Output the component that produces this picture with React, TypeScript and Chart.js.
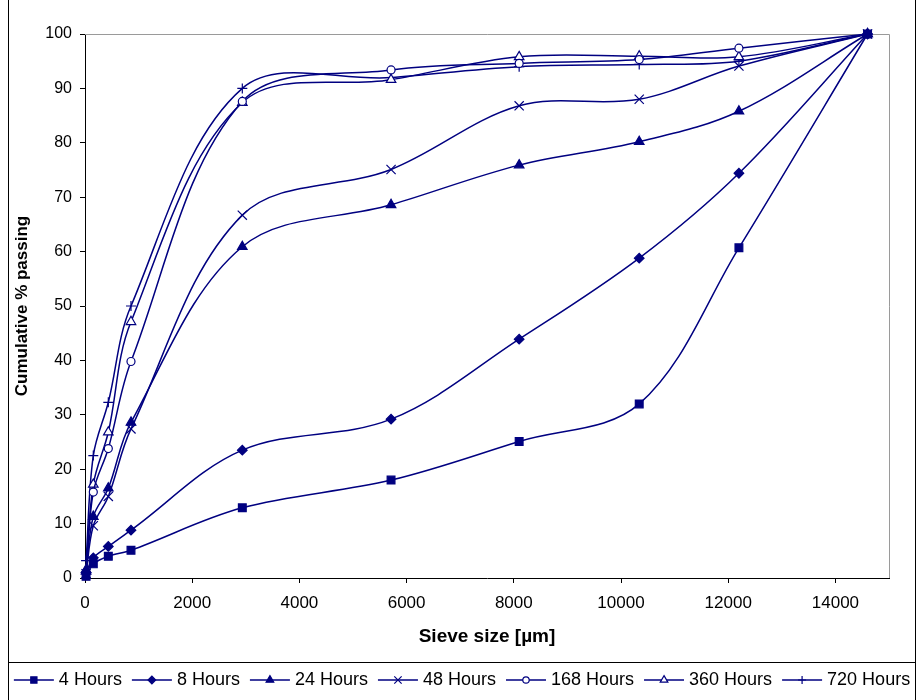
import React, { useEffect, useRef } from 'react';
import { Chart, registerables } from 'chart.js';

Chart.register(...registerables);

// ---------- data ----------
const sieveSizes = [20, 155, 435, 858, 2935, 5710, 8100, 10340, 12200, 14600];

const seriesLabels = ['4 Hours', '8 Hours', '24 Hours', '48 Hours', '168 Hours', '360 Hours', '720 Hours'];

const hours4 = [0.3, 2.6, 4.0, 5.1, 12.9, 18.0, 25.1, 32.0, 60.7, 100];
const hours8 = [1.0, 3.7, 5.8, 8.8, 23.5, 29.2, 43.9, 58.8, 74.4, 100];
const hours24 = [1.5, 11.3, 16.5, 28.6, 60.9, 68.6, 75.9, 80.2, 85.8, 100];
const hours48 = [0.8, 9.6, 15.0, 27.4, 66.7, 75.1, 86.8, 88.0, 94.1, 100];
const hours168 = [1.0, 15.8, 23.8, 39.8, 87.6, 93.4, 94.6, 95.3, 97.4, 100];
const hours360 = [1.2, 17.2, 26.8, 47.1, 87.4, 91.6, 95.8, 95.9, 95.8, 100];
const hours720 = [3.2, 22.5, 32.3, 50.0, 90.0, 92.0, 94.0, 94.4, 95.0, 100];

const seriesValues = [hours4, hours8, hours24, hours48, hours168, hours360, hours720];

const xTickValues = [0, 2000, 4000, 6000, 8000, 10000, 12000, 14000];
const yTickValues = [0, 10, 20, 30, 40, 50, 60, 70, 80, 90, 100];

// ---------- styles ----------
const NAVY = '#000080';
const FONT = "'Liberation Sans', Arial, sans-serif";

type MarkerDef = { style: string; radius: number; filled: boolean };
const markers: MarkerDef[] = [
  { style: 'rect', radius: 5.5, filled: true },
  { style: 'rectRot', radius: 4.8, filled: true },
  { style: 'triangle', radius: 5.5, filled: true },
  { style: 'crossRot', radius: 6.5, filled: false },
  { style: 'circle', radius: 4, filled: false },
  { style: 'triangle', radius: 5.5, filled: false },
  { style: 'cross', radius: 5, filled: false },
];

function drawMarker(ctx: CanvasRenderingContext2D, m: MarkerDef, x: number, y: number, r: number) {
  ctx.save();
  ctx.strokeStyle = NAVY;
  ctx.fillStyle = m.filled ? NAVY : '#ffffff';
  ctx.lineWidth = 1.2;
  ctx.beginPath();
  if (m.style === 'rect') {
    const s = Math.SQRT1_2 * r;
    ctx.rect(x - s, y - s, 2 * s, 2 * s);
    ctx.fill();
    ctx.stroke();
  } else if (m.style === 'rectRot') {
    ctx.moveTo(x - r, y);
    ctx.lineTo(x, y - r);
    ctx.lineTo(x + r, y);
    ctx.lineTo(x, y + r);
    ctx.closePath();
    ctx.fill();
    ctx.stroke();
  } else if (m.style === 'triangle') {
    const a = (2 * Math.PI) / 3;
    ctx.moveTo(x, y - r);
    ctx.lineTo(x + Math.sin(a) * r, y - Math.cos(a) * r);
    ctx.lineTo(x - Math.sin(a) * r, y - Math.cos(a) * r);
    ctx.closePath();
    ctx.fill();
    ctx.stroke();
  } else if (m.style === 'circle') {
    ctx.arc(x, y, r, 0, Math.PI * 2);
    ctx.fill();
    ctx.stroke();
  } else if (m.style === 'crossRot') {
    const o = Math.SQRT1_2 * r;
    ctx.moveTo(x - o, y - o);
    ctx.lineTo(x + o, y + o);
    ctx.moveTo(x - o, y + o);
    ctx.lineTo(x + o, y - o);
    ctx.stroke();
  } else if (m.style === 'cross') {
    ctx.moveTo(x - r, y);
    ctx.lineTo(x + r, y);
    ctx.moveTo(x, y - r);
    ctx.lineTo(x, y + r);
    ctx.stroke();
  }
  ctx.restore();
}

const plotBorder = {
  id: 'plotBorder',
  beforeDatasetsDraw(chart: any) {
    const { ctx, chartArea } = chart;
    const { left, right, top, bottom } = chartArea;
    ctx.save();
    ctx.strokeStyle = '#9a9a9a';
    ctx.lineWidth = 1;
    ctx.beginPath();
    ctx.moveTo(left, Math.round(top) + 0.5);
    ctx.lineTo(Math.round(right) + 0.5, Math.round(top) + 0.5);
    ctx.lineTo(Math.round(right) + 0.5, bottom);
    ctx.stroke();
    ctx.restore();
  },
};

const frameAndLegend = {
  id: 'frameAndLegend',
  afterDraw(chart: any) {
    const ctx: CanvasRenderingContext2D = chart.ctx;
    const W = chart.width;
    const H = chart.height;
    const frameLeft = 8.5;
    const frameRight = W - 2.5;
    const legendTop = 662.5;
    ctx.save();
    ctx.strokeStyle = '#000';
    ctx.lineWidth = 1;
    ctx.beginPath();
    ctx.moveTo(frameLeft, 0);
    ctx.lineTo(frameLeft, H);
    ctx.moveTo(frameRight, 0);
    ctx.lineTo(frameRight, H);
    ctx.moveTo(frameLeft, legendTop);
    ctx.lineTo(frameRight, legendTop);
    ctx.stroke();

    // legend
    ctx.font = `18px ${FONT}`;
    ctx.textBaseline = 'middle';
    ctx.fillStyle = '#000';
    const lineLen = 40;
    const gapText = 5;
    const gapItem = 10;
    const widths = chart.data.datasets.map((d: any) => ctx.measureText(d.label).width);
    const total =
      widths.reduce((a: number, b: number) => a + b, 0) +
      widths.length * (lineLen + gapText) +
      (widths.length - 1) * gapItem;
    let x = (frameLeft + frameRight) / 2 - total / 2;
    const y = 680;
    chart.data.datasets.forEach((d: any, i: number) => {
      ctx.strokeStyle = NAVY;
      ctx.lineWidth = 1.5;
      ctx.beginPath();
      ctx.moveTo(x, y);
      ctx.lineTo(x + lineLen, y);
      ctx.stroke();
      drawMarker(ctx, markers[i], x + lineLen / 2, y, markers[i].radius * 0.8);
      ctx.fillStyle = '#000';
      ctx.fillText(d.label, x + lineLen + gapText, y);
      x += lineLen + gapText + widths[i] + gapItem;
    });
    ctx.restore();
  },
};

export default function App() {
  const canvasRef = useRef<HTMLCanvasElement | null>(null);

  useEffect(() => {
    document.body.style.margin = '0';
    const canvas = canvasRef.current;
    if (!canvas) return;

    const datasets = seriesLabels.map((label, i) => ({
      label,
      data: sieveSizes.map((s, j) => ({ x: s, y: seriesValues[i][j] })),
      borderColor: NAVY,
      borderWidth: 1.5,
      tension: 0.35,
      fill: false,
      clip: false as any,
      pointStyle: markers[i].style as any,
      pointRadius: markers[i].radius,
      pointBackgroundColor: markers[i].filled ? NAVY : '#ffffff',
      pointBorderColor: NAVY,
      pointBorderWidth: 1.2,
    }));

    const chart = new Chart(canvas, {
      type: 'line',
      data: { datasets },
      options: {
        animation: false,
        responsive: false,
        maintainAspectRatio: false,
        layout: { padding: { left: 0, right: 29, top: 34, bottom: 38 } },
        plugins: { legend: { display: false }, tooltip: { enabled: false } },
        scales: {
          x: {
            type: 'linear',
            min: 0,
            max: 15000,
            afterBuildTicks: (scale: any) => {
              scale.ticks = xTickValues.map((v) => ({ value: v }));
            },
            afterFit: (scale: any) => {
              scale.height = 84;
            },
            ticks: {
              color: '#000',
              font: { family: FONT, size: 17 },
              padding: 10,
              maxRotation: 0,
              minRotation: 0,
              autoSkip: false,
              callback: (v: any) => String(v),
            },
            grid: { drawOnChartArea: false, drawTicks: true, tickLength: 5, color: '#000' },
            border: { display: true, color: '#000', width: 1 },
            title: {
              display: true,
              text: 'Sieve size [µm]',
              color: '#000',
              font: { family: FONT, size: 19, weight: 'bold' },
              padding: { top: 0, bottom: 14 },
            },
          },
          y: {
            type: 'linear',
            min: 0,
            max: 100,
            afterBuildTicks: (scale: any) => {
              scale.ticks = yTickValues.map((v) => ({ value: v }));
            },
            afterFit: (scale: any) => {
              scale.width = 85;
            },
            ticks: {
              color: '#000',
              font: { family: FONT, size: 16 },
              padding: 8,
              autoSkip: false,
              callback: (v: any) => String(v),
            },
            grid: { drawOnChartArea: false, drawTicks: true, tickLength: 5, color: '#000' },
            border: { display: true, color: '#000', width: 1 },
            title: {
              display: true,
              text: 'Cumulative % passing',
              color: '#000',
              font: { family: FONT, size: 17, weight: 'bold' },
              padding: { top: 12, bottom: 0 },
            },
          },
        },
      },
      plugins: [plotBorder, frameAndLegend],
    } as any);

    return () => {
      chart.destroy();
    };
  }, []);

  return (
    <div style={{ width: 918, height: 700, position: 'relative' }}>
      <canvas ref={canvasRef} width={918} height={700} style={{ display: 'block' }} />
    </div>
  );
}
